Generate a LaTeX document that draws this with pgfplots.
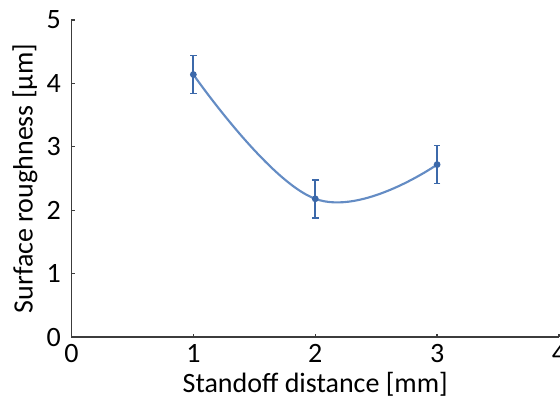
\documentclass[border=0pt]{standalone}
\usepackage{pgfplots}
\pgfplotsset{compat=1.18}
\usepackage{fontspec}
\setmainfont{Carlito}
\definecolor{curve}{RGB}{100,140,196}
\definecolor{ebar}{RGB}{60,105,170}
\definecolor{axc}{RGB}{60,60,60}
\begin{document}
\begin{tikzpicture}
\begin{axis}[
  name=ax,
  scale only axis,
  width=365.6pt, height=237.75pt,
  xmin=0, xmax=4, ymin=0, ymax=5,
  axis x line=bottom, axis y line=left,
  axis line style={-, axc, line width=1.1pt},
  xtick={0,1,2,3,4}, ytick={0,1,2,3,4,5},
  tick align=inside, major tick length=2.5pt,
  tick style={axc, line width=1pt},
  /pgf/number format/assume math mode=true,
  ticklabel style={font=\fontsize{21}{24}\selectfont},
  xticklabel style={yshift=-2pt},
  yticklabel style={xshift=-4.5pt},
  label style={font=\fontsize{21}{24}\selectfont},
  xlabel={Standoff distance [mm]},
  ylabel={Surface roughness [μm]},
  xlabel style={yshift=0pt},
  ylabel style={yshift=0pt},
  clip=false,
]
\addplot[curve, line width=1.6pt, smooth, tension=0.7] coordinates {(1,4.14) (2,2.18) (3,2.72)};
\addplot[ebar, only marks, mark=*, mark size=1.8pt, line width=1.4pt,
  error bars/.cd, y dir=both, y explicit,
  error bar style={ebar, line width=1.6pt},
  error mark options={ebar, rotate=90, mark size=2.5pt, line width=1.3pt}]
  coordinates {(1,4.14) +- (0,0.30) (2,2.18) +- (0,0.30) (3,2.72) +- (0,0.30)};
\end{axis}
\pgfresetboundingbox
\path[use as bounding box] ([xshift=-53.6pt,yshift=-46.5pt]ax.south west) rectangle ([xshift=0.75pt,yshift=15pt]ax.north east);
\end{tikzpicture}
\end{document}
